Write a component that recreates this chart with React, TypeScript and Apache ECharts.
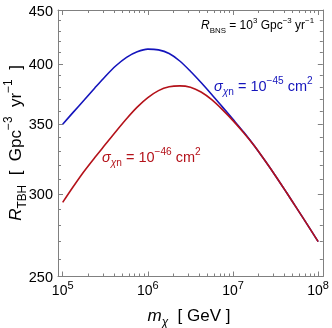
import React, { useEffect, useRef } from 'react';
import * as echarts from 'echarts';

// Dark-matter mass m_chi [GeV]
const massGeV = [
  1e5, 1.334e5, 1.778e5, 2.371e5, 3.162e5, 4.217e5, 5.623e5, 7.499e5,
  1e6, 1.334e6, 1.778e6, 2.371e6, 3.162e6, 4.217e6, 5.623e6, 7.499e6,
  1e7, 1.334e7, 1.778e7, 2.371e7, 3.162e7, 4.217e7, 5.623e7, 7.499e7,
  1e8,
];
// R_TBH [Gpc^-3 yr^-1] for sigma = 1e-45 cm^2 (blue)
const rateSigma45 = [
  350, 359.5, 369, 379, 389, 398.3, 405.8, 410.8,
  413.2, 412.5, 409.2, 402.5, 393.5, 383.8, 373.8, 363.7,
  353.8, 344, 333.8, 323, 312.2, 301.3, 290.6, 280.2,
  270,
];
// R_TBH [Gpc^-3 yr^-1] for sigma = 1e-46 cm^2 (red)
const rateSigma46 = [
  294.5, 305, 315.3, 325, 334.6, 344.5, 354.3, 363.5,
  371.2, 377, 380.2, 381, 379.8, 375.8, 369.5, 361.5,
  352.8, 343.5, 333.7, 323, 312.2, 301.3, 290.6, 280.2,
  270,
];

const xMajorExponents = [5, 6, 7, 8];
const yMajorTicks = [250, 300, 350, 400, 450];
const yMinorTicks = [260, 270, 280, 290, 310, 320, 330, 340, 360, 370, 380, 390, 410, 420, 430, 440];

const FONT = '"Liberation Sans", Arial, sans-serif';
const AXIS_COLOR = '#808080';
const BLUE = '#1414bc';
const RED = '#b4121a';

const X_MIN = 4.945;
const X_MAX = 8.055;
const Y_MIN = Math.log10(250);
const Y_MAX = Math.log10(450) + 0.0005;

function richSet(size: number, color: string, ratio = 0.7) {
  const lh = size * 1.5;
  const base = { fontSize: size, fontFamily: FONT, color, fill: color, lineHeight: lh, verticalAlign: 'middle' };
  const small = size * ratio;
  return {
    n: base,
    i: { ...base, fontStyle: 'italic' },
    sub: { fontSize: small, fontFamily: FONT, color, fill: color, lineHeight: size * 0.9, verticalAlign: 'bottom' },
    subi: { fontSize: small, fontFamily: FONT, color, fill: color, lineHeight: size * 0.9, verticalAlign: 'bottom', fontStyle: 'italic' },
    sup: { fontSize: small, fontFamily: FONT, color, fill: color, lineHeight: size * 0.6, verticalAlign: 'top' },
  };
}

export default function App() {
  const ref = useRef<HTMLDivElement>(null);
  useEffect(() => {
    const chart = echarts.init(ref.current!, null, { renderer: 'svg' });
    const xMajor = xMajorExponents.slice();
    const xMinor: number[] = [];
    for (let d = 5; d <= 7; d++) for (let k = 2; k <= 9; k++) xMinor.push(Math.log10(k * Math.pow(10, d)));
    const yMajor = yMajorTicks.map((v) => Math.log10(v));
    const yMinor = yMinorTicks.map((v) => Math.log10(v));

    const hidden = { show: false };
    const mkX = (pos: 'bottom' | 'top', ticks: number[], len: number, line: boolean, labels: boolean) => ({
      type: 'value',
      position: pos,
      min: X_MIN,
      max: X_MAX,
      splitLine: hidden,
      axisLine: { show: line, onZero: false, lineStyle: { color: AXIS_COLOR, width: 1 } },
      axisTick: { show: true, inside: true, length: len, customValues: ticks, lineStyle: { color: AXIS_COLOR, width: 1 } },
      axisLabel: labels
        ? {
            show: true,
            customValues: ticks,
            margin: 2.5,
            formatter: (v: number) => `{b|10}{s|${Math.round(v)}}`,
            rich: {
              b: { fontSize: 14, fontFamily: FONT, color: '#000', lineHeight: 22, verticalAlign: 'middle' },
              s: { fontSize: 11, fontFamily: FONT, color: '#000', lineHeight: 7, verticalAlign: 'top' },
            },
          }
        : hidden,
    });
    const mkY = (pos: 'left' | 'right', ticks: number[], len: number, line: boolean, labels: boolean) => ({
      type: 'value',
      position: pos,
      min: Y_MIN,
      max: Y_MAX,
      splitLine: hidden,
      axisLine: { show: line, onZero: false, lineStyle: { color: AXIS_COLOR, width: 1 } },
      axisTick: { show: true, inside: true, length: len, customValues: ticks, lineStyle: { color: AXIS_COLOR, width: 1 } },
      axisLabel: labels
        ? {
            show: true,
            customValues: ticks,
            margin: 5,
            fontSize: 14.5,
            fontFamily: FONT,
            color: '#000',
            formatter: (v: number) => String(Math.round(Math.pow(10, v))),
          }
        : hidden,
    });

    const toPts = (rates: number[]) => massGeV.map((m, i) => [Math.log10(m), Math.log10(rates[i])]);

    const option = {
      animation: false,
      grid: { left: 58, right: 8.7, top: 10, bottom: 51.5 },
      xAxis: [
        mkX('bottom', xMajor, 5, true, true),
        mkX('bottom', xMinor, 3, false, false),
        mkX('top', xMajor, 5, true, false),
        mkX('top', xMinor, 3, false, false),
      ],
      yAxis: [
        mkY('left', yMajor, 5, true, true),
        mkY('left', yMinor, 3, false, false),
        mkY('right', yMajor, 5, true, false),
        mkY('right', yMinor, 3, false, false),
      ],
      series: [
        {
          type: 'line',
          xAxisIndex: 0,
          yAxisIndex: 0,
          data: toPts(rateSigma45),
          showSymbol: false,
          symbol: 'none',
          smooth: 0.3,
          lineStyle: { color: BLUE, width: 1.6 },
          silent: true,
        },
        {
          type: 'line',
          xAxisIndex: 0,
          yAxisIndex: 0,
          data: toPts(rateSigma46),
          showSymbol: false,
          symbol: 'none',
          smooth: 0.3,
          lineStyle: { color: RED, width: 1.6 },
          silent: true,
        },
      ],
      graphic: [
        {
          type: 'text',
          x: 15,
          y: 143,
          rotation: Math.PI / 2,
          style: {
            text: '{i|R}{sub|TBH}{n|  [  Gpc}{sup|−3}{n|  yr}{sup|−1}{n|  ]}',
            rich: richSet(17, '#000'),
            align: 'center',
            verticalAlign: 'middle',
          },
        },
        {
          type: 'text',
          x: 189,
          y: 315,
          style: {
            text: '{i|m}{subi|χ}{n|  [ GeV ]}',
            rich: richSet(17, '#000'),
            align: 'center',
            verticalAlign: 'middle',
          },
        },
        {
          type: 'text',
          x: 201,
          y: 25,
          style: {
            text: '{i|R}{sub|BNS}{n| = 10}{sup|3}{n| Gpc}{sup|−3}{n| yr}{sup|−1}',
            rich: richSet(12, '#000', 0.66),
            align: 'left',
            verticalAlign: 'middle',
          },
        },
        {
          type: 'text',
          x: 214,
          y: 86,
          style: {
            text: '{i|σ}{subi|χ}{sub|n}{n| = 10}{sup|−45}{n| cm}{sup|2}',
            rich: richSet(14.5, BLUE),
            align: 'left',
            verticalAlign: 'middle',
          },
        },
        {
          type: 'text',
          x: 102,
          y: 157,
          style: {
            text: '{i|σ}{subi|χ}{sub|n}{n| = 10}{sup|−46}{n| cm}{sup|2}',
            rich: richSet(14.5, RED),
            align: 'left',
            verticalAlign: 'middle',
          },
        },
      ],
    };
    chart.setOption(option as any);
    return () => chart.dispose();
  }, []);
  return <div ref={ref} style={{ position: 'fixed', left: 0, top: 0, width: 332, height: 328 }} />;
}
